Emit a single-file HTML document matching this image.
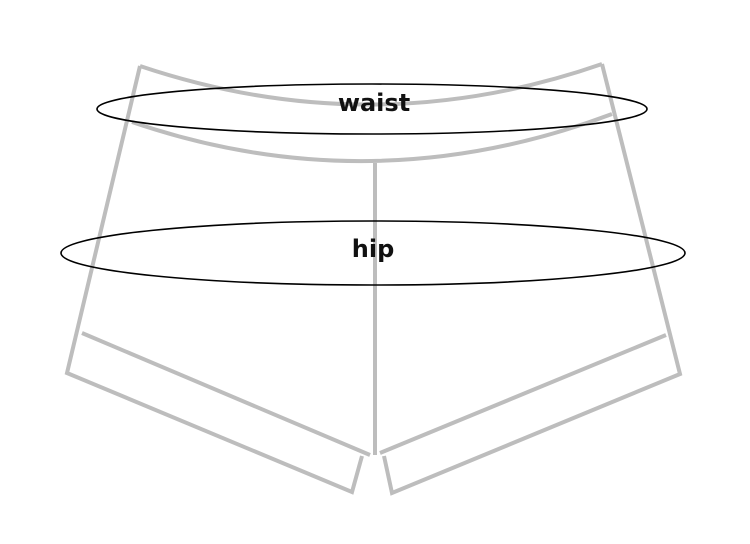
<!DOCTYPE html>
<html><head><style>
html,body{margin:0;padding:0;background:#fff;}
svg{display:block;}
</style></head><body>
<svg width="750" height="544" viewBox="0 0 750 544" xmlns="http://www.w3.org/2000/svg">
<g fill="none" stroke="#bdbdbd" stroke-width="4" stroke-linejoin="miter">
<path d="M140,66 Q372,144 602,64"/>
<path d="M132,122 Q372,204 612,114"/>
<path d="M140,66 L67,373 L352,492 L362,456"/>
<path d="M602,64 L680,374 L392,493 L384,456"/>
<path d="M82,333 L370,455"/>
<path d="M666,335 L380,453"/>
<path d="M375,163 L375,455"/>
</g>
<g fill="none" stroke="#000" stroke-width="1.6">
<ellipse cx="372" cy="109" rx="275" ry="25"/>
<ellipse cx="373" cy="253" rx="312" ry="32"/>
</g>
<g font-family="'DejaVu Sans','Liberation Sans',sans-serif" font-size="24" font-weight="bold" fill="#111" text-anchor="middle">
<text x="374" y="111">waist</text>
<text x="373" y="257">hip</text>
</g>
</svg>
</body></html>
